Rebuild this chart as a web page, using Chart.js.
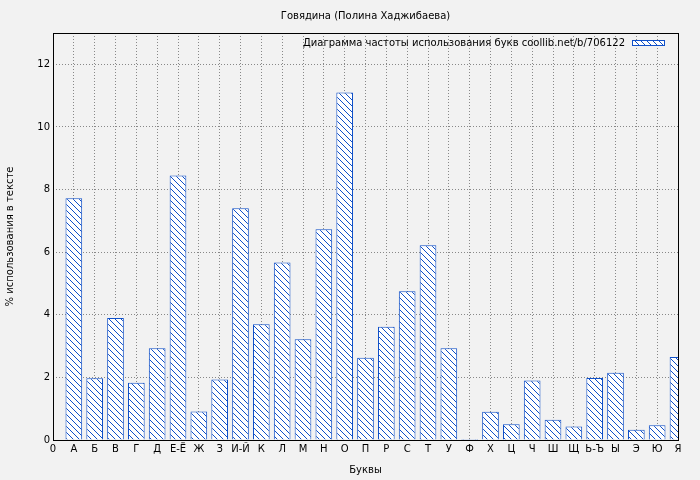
<!DOCTYPE html>
<html><head><meta charset="utf-8">
<script src="https://cdn.jsdelivr.net/npm/chart.js@4/dist/chart.umd.min.js"></script>
<style>body{margin:0;background:#f2f2f2}#wrap{width:700px;height:480px}</style>
</head><body><div id="wrap"><canvas id="c"></canvas></div>
<script>
// подписи оси X (0 + буквы)
const tickLabels = ['0','А','Б','В','Г','Д','Е-Ё','Ж','З','И-Й','К','Л','М','Н','О','П','Р','С','Т','У','Ф','Х','Ц','Ч','Ш','Щ','Ь-Ъ','Ы','Э','Ю','Я'];
// частота букв, %
const freqs = [7.72,1.97,3.9,1.83,2.93,8.45,0.91,1.93,7.4,3.7,5.67,3.22,6.73,11.1,2.63,3.62,4.75,6.22,2.93,0.03,0.9,0.5,1.9,0.65,0.43,1.98,2.15,0.33,0.47,2.65];
const titleText = 'Говядина (Полина Хаджибаева)';
const legendText = 'Диаграмма частоты использования букв coollib.net/b/706122';

function hatch() {
    const p = document.createElement('canvas');
    p.width = 6; p.height = 6;
    const g = p.getContext('2d');
    g.fillStyle = '#fff'; g.fillRect(0, 0, 6, 6);
    g.strokeStyle = '#1050c8'; g.lineWidth = 1;
    g.beginPath();
    g.moveTo(0, 0); g.lineTo(6, 6);
    g.moveTo(-3, 3); g.lineTo(3, 9);
    g.moveTo(3, -3); g.lineTo(9, 3);
    g.stroke();
    return g.createPattern(p, 'repeat');
}
const pat = hatch();

const extras = {
    id: 'extras',
    beforeDraw(chart) {
        const c = chart.ctx;
        c.save(); c.fillStyle = '#f2f2f2'; c.fillRect(0, 0, chart.width, chart.height); c.restore();
    },
    afterDraw(chart) {
        const c = chart.ctx, a = chart.chartArea;
        c.save();
        c.strokeStyle = '#000'; c.lineWidth = 1;
        c.strokeRect(a.left + 0.5, a.top + 0.5, a.right - a.left, a.bottom - a.top);
        c.fillStyle = '#000'; c.font = '10px "DejaVu Sans"';
        c.textAlign = 'center'; c.textBaseline = 'middle';
        c.fillText(titleText, (a.left + a.right) / 2, 16);
        c.textAlign = 'right';
        c.fillText(legendText, 625, 43);
        c.fillStyle = pat; c.fillRect(632, 40, 32, 6);
        c.strokeStyle = '#1050c8'; c.strokeRect(632.5, 40.5, 32, 5);
        c.restore();
    }
};

new Chart(document.getElementById('c'), {
    type: 'bar',
    data: {
        datasets: [{
            data: freqs.map((v, i) => ({ x: i + 1, y: v })),
            backgroundColor: pat,
            borderColor: '#1050c8',
            borderWidth: 1,
            barPercentage: 0.8,
            categoryPercentage: 1
        }]
    },
    options: {
        responsive: true, maintainAspectRatio: false, animation: false,
        layout: { padding: { top: 33, right: 22 } },
        plugins: { legend: { display: false }, tooltip: { enabled: false } },
        scales: {
            x: {
                type: 'linear', min: 0, max: 30, offset: false,
                ticks: { stepSize: 1, autoSkip: false, maxRotation: 0, color: '#000', font: { size: 10, family: 'DejaVu Sans' },
                    callback: v => tickLabels[v] },
                grid: { color: '#888', drawTicks: false, offset: false },
                border: { display: false, dash: [1, 2] },
                title: { display: true, text: 'Буквы', color: '#000', font: { size: 10, family: 'DejaVu Sans' } },
                afterFit: s => { s.height = 40; }
            },
            y: {
                min: 0, max: 13,
                ticks: { stepSize: 1, color: '#000', font: { size: 10, family: 'DejaVu Sans' },
                    callback: v => (v % 2 === 0 ? v : '') },
                grid: { color: ctx => (ctx.tick && ctx.tick.value % 2 === 0 ? '#888' : 'rgba(0,0,0,0)'), drawTicks: false },
                border: { display: false, dash: [1, 2] },
                title: { display: true, text: '% использования в тексте', color: '#000', font: { size: 10, family: 'DejaVu Sans' } },
                afterFit: s => { s.width = 53; }
            }
        }
    },
    plugins: [extras]
});
</script></body></html>
